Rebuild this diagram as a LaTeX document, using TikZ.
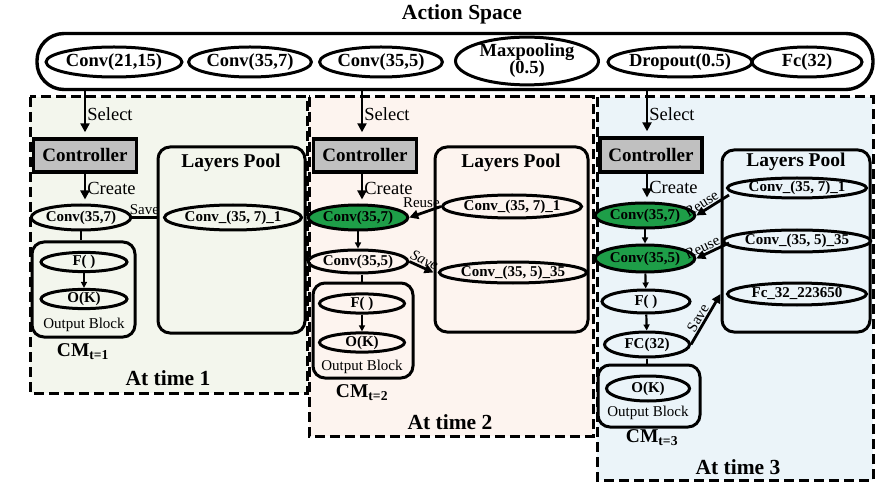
\documentclass[tikz,border=0pt]{standalone}
\usepackage{fontspec}
\setmainfont{Liberation Serif}
\usetikzlibrary{shapes.geometric,arrows.meta,positioning}

\definecolor{reusegreen}{RGB}{30,158,72}
\definecolor{bgone}{RGB}{243,246,237}
\definecolor{bgtwo}{RGB}{253,244,239}
\definecolor{bgthree}{RGB}{235,244,249}
\definecolor{ctrlgray}{RGB}{192,192,192}

\tikzstyle{layer} = [ellipse, draw, line width=3pt, inner sep=0pt, font=\fontsize{15}{15}\selectfont\bfseries]
\tikzstyle{action} = [layer, minimum height=30pt, font=\fontsize{18.5}{18}\selectfont\bfseries]
\tikzstyle{ctrl} = [rectangle, draw, fill=ctrlgray, line width=3.4pt, minimum width=103pt, minimum height=33pt, font=\fontsize{19}{19}\selectfont\bfseries]
\tikzstyle{pool} = [rectangle, draw, rounded corners=12pt, line width=3pt, inner sep=0pt]
\tikzstyle{panel} = [draw, line width=3pt, dash pattern=on 10pt off 5pt]
\tikzstyle{flow} = [-{Triangle[length=9pt,width=9pt]}, line width=2.8pt]
\tikzstyle{link} = [-{Triangle[length=6pt,width=6pt]}, line width=2.2pt]
\tikzstyle{note} = [inner sep=1pt, font=\fontsize{18.5}{18}\selectfont]
\tikzstyle{small} = [inner sep=1pt, font=\fontsize{15}{15}\selectfont]
\tikzstyle{heading} = [inner sep=0pt, font=\fontsize{19.5}{19}\selectfont\bfseries]

\begin{document}
\begin{tikzpicture}[x=1pt, y=-1pt]
        \useasboundingbox (0,0) rectangle (880,486);
        % panels
        \draw[panel, fill=bgone] (30,97) rectangle (307,393);
        \draw[panel, fill=bgtwo] (309,97) rectangle (593,436);
        \draw[panel, fill=bgthree] (597,97) rectangle (873,480);

        % action space
        \node (title) at (462,14) [heading, font=\fontsize{21.5}{21}\selectfont\bfseries] {Action Space};
        \node (space) at (455,61.5) [pool, rounded corners=27pt, line width=3.4pt, minimum width=836pt, minimum height=56pt] {};
        \node (a1) at (114,62) [action, minimum width=128pt] {Conv(21,15)};
        \node (a2) at (250,62) [action, minimum width=120pt] {Conv(35,7)};
        \node (a3) at (381,62) [action, minimum width=117pt] {Conv(35,5)};
        \node (a4) at (527,61) [action, minimum width=143pt, minimum height=46pt, align=center, font=\fontsize{18.5}{17}\selectfont\bfseries] {Maxpooling\\(0.5)};
        \node (a5) at (680,62) [action, minimum width=138pt] {Dropout(0.5)};
        \node (a6) at (807,62) [action, minimum width=110pt] {Fc(32)};

        % at time 1
        \node (ctrl1) at (85,155.5) [ctrl] {Controller};
        \node (c1a) at (81,217.5) [layer, minimum width=98pt, minimum height=25pt] {Conv(35,7)};
        \node (ob1) at (83.5,289.5) [pool, minimum width=103pt, minimum height=95pt] {};
        \node (f1) at (84,262) [layer, minimum width=86pt, minimum height=18pt] {F( )};
        \node (o1) at (84,299) [layer, minimum width=86pt, minimum height=18pt] {O(K)};
        \node (lb1) at (84,325) [small] {Output Block};
        \node (cm1) at (83,352) [heading] {CM\textsubscript{t=1}};
        \node (lp1) at (231.5,240) [pool, minimum width=147pt, minimum height=186pt] {};
        \node (lt1) at (231,163) [heading] {Layers Pool};
        \node (p1a) at (233,217.5) [layer, minimum width=137pt, minimum height=25pt] {Conv\_(35, 7)\_1};
        \node (time1) at (168,378) [heading, font=\fontsize{21.5}{21}\selectfont\bfseries] {At time 1};

        \draw[flow, shorten >=5pt] (ctrl1.north |- space.south) -- node[note, right] {Select} (ctrl1.north);
        \draw[flow, shorten >=4pt] (ctrl1.south) -- node[note, right] {Create} (ctrl1.south |- c1a.north);
        \draw[line width=2.8pt] (c1a.south) -- (c1a.south |- ob1.north);
        \draw[link] (f1) -- (o1);
        \draw[line width=2.8pt] (c1a.east) -- node[small, above] {Save} (lp1.west |- c1a);

        % at time 2
        \node (ctrl2) at (365,155.5) [ctrl] {Controller};
        \node (c2a) at (358,217.5) [layer, fill=reusegreen, minimum width=90pt, minimum height=25pt] {Conv(35,7)};
        \node (c2b) at (358,261.5) [layer, minimum width=90pt, minimum height=23pt] {Conv(35,5)};
        \node (ob2) at (363,330.5) [pool, minimum width=100pt, minimum height=95pt] {};
        \node (f2) at (362,303.5) [layer, minimum width=85pt, minimum height=17pt] {F( )};
        \node (o2) at (362,342.5) [layer, minimum width=85pt, minimum height=19pt] {O(K)};
        \node (lb2) at (362,367) [small] {Output Block};
        \node (cm2) at (362,393) [heading] {CM\textsubscript{t=2}};
        \node (lp2) at (511.5,239.5) [pool, minimum width=153pt, minimum height=185pt] {};
        \node (lt2) at (511,163) [heading] {Layers Pool};
        \node (p2a) at (512,206.5) [layer, minimum width=139pt, minimum height=23pt] {Conv\_(35, 7)\_1};
        \node (p2b) at (513,272.5) [layer, minimum width=140pt, minimum height=21pt] {Conv\_(35, 5)\_35};
        \node (time2) at (450,422) [heading, font=\fontsize{21.5}{21}\selectfont\bfseries] {At time 2};

        \coordinate (s2) at (362,0);
        \draw[flow, shorten >=5pt] (s2 |- space.south) -- node[note, right] {Select} (s2 |- ctrl2.north);
        \draw[flow, shorten >=4pt] (s2 |- ctrl2.south) -- node[note, right] {Create} (s2 |- c2a.north);
        \draw[link] (c2a) -- (c2b);
        \draw[line width=2.8pt] (s2 |- c2b.south) -- (s2 |- ob2.north);
        \draw[link] (f2) -- (o2);
        \draw[flow] (p2a.west) -- node[small, pos=0.62, above=3pt] {Reuse} (c2a.east);
        \draw[flow] (c2b.east) -- node[small, sloped, above, font=\fontsize{15}{15}\selectfont\itshape] {Save} (lp2.west |- p2b.west);

        % at time 3
        \node (ctrl3) at (651,155) [ctrl, minimum width=102pt, minimum height=34pt] {Controller};
        \node (c3a) at (645,215.5) [layer, fill=reusegreen, minimum width=94pt, minimum height=25pt] {Conv(35,7)};
        \node (c3b) at (645,258.5) [layer, fill=reusegreen, minimum width=94pt, minimum height=27pt] {Conv(35,5)};
        \node (f3) at (646,301.5) [layer, minimum width=88pt, minimum height=23pt] {F( )};
        \node (fc3) at (647,344.5) [layer, minimum width=85pt, minimum height=25pt] {FC(32)};
        \node (ob3) at (649,396) [pool, minimum width=102pt, minimum height=62pt] {};
        \node (o3) at (648,388.5) [layer, minimum width=83pt, minimum height=25pt] {O(K)};
        \node (lb3) at (648,413) [small] {Output Block};
        \node (cm3) at (652,438) [heading] {CM\textsubscript{t=3}};
        \node (lp3) at (796,241) [pool, minimum width=148pt, minimum height=182pt] {};
        \node (lt3) at (796,162) [heading] {Layers Pool};
        \node (p3a) at (797,188) [layer, minimum width=139pt, minimum height=20pt] {Conv\_(35, 7)\_1};
        \node (p3b) at (797,241) [layer, minimum width=139pt, minimum height=22pt] {Conv\_(35, 5)\_35};
        \node (p3c) at (797,294) [layer, minimum width=139pt, minimum height=22pt] {Fc\_32\_223650};
        \node (time3) at (738,467) [heading, font=\fontsize{21.5}{21}\selectfont\bfseries] {At time 3};

        \coordinate (s3) at (647,0);
        \coordinate (r1) at (729,195);
        \coordinate (r2) at (729,243);
        \draw[flow, shorten >=5pt] (s3 |- space.south) -- node[note, right] {Select} (s3 |- ctrl3.north);
        \draw[flow, shorten >=4pt] (s3 |- ctrl3.south) -- node[note, right] {Create} (s3 |- c3a.north);
        \draw[link] (c3a) -- (c3b);
        \draw[link] (c3b) -- (f3);
        \draw[link] (f3) -- (fc3);
        \draw[line width=2.8pt] (fc3.south) -- (fc3.south |- ob3.north);
        \draw[flow] (r1) -- node[small, sloped, above, pos=0.72] {Reuse} (c3a.east);
        \draw[flow] (r2) -- node[small, sloped, above, pos=0.72] {Reuse} (c3b.east);
        \draw[flow] (fc3.east) -- node[small, sloped, above, pos=0.45] {Save} (lp3.west |- p3c.west);
    \end{tikzpicture}
\end{document}
